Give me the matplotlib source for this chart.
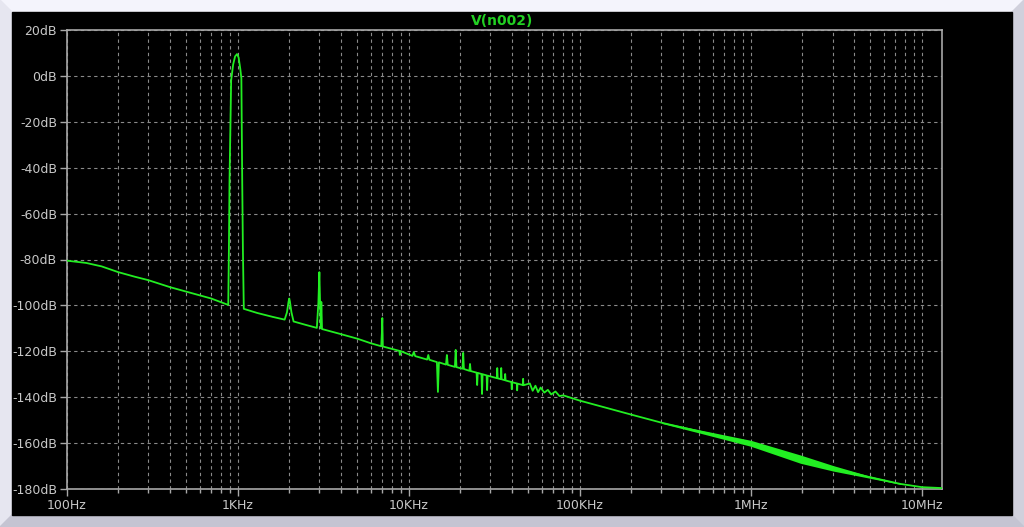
import numpy as np
import matplotlib
matplotlib.use("Agg")
import matplotlib.pyplot as plt
from matplotlib.patches import Rectangle, Polygon

# spectrum trace V(n002), frequency in Hz and magnitude in dB
freq = [100, 130, 160, 200, 250, 300, 400, 500, 700, 880,
        888, 895, 915, 940, 965, 990, 1012, 1035, 1050, 1062, 1072, 1085,
        1300, 1600, 1880, 1940, 1980, 2000, 2020, 2060, 2120, 2500, 2900,
        2960, 3000, 3030, 3060, 3080, 3110, 4000, 5000, 6000,
        6900, 6960, 7000, 7050, 8800, 8870, 8950,
        10500, 10700, 10900, 12800, 13000, 13200,
        14600, 14800, 15000, 16500, 16700, 16900, 18600, 18800, 19000,
        20600, 20800, 21000, 22600, 22800, 23000, 24900, 25100, 25300,
        26600, 26800, 27000, 28500, 28700, 28900, 32700, 32900, 33100,
        34500, 34700, 34900, 36400, 36600, 36800, 39800, 40000, 40200,
        42800, 43000, 43200, 46400, 46600, 46800,
        51000, 53000, 55000, 57000, 59000, 62000, 65000, 68000, 72000, 76000, 80000,
        100e3, 200e3, 300e3, 506e3, 1.0e6, 1.95e6, 3.03e6, 4.8e6, 7.5e6, 10e6, 13.1e6]
mag = [-80.5, -81.5, -83.0, -85.5, -87.5, -89.0, -92.0, -94.0, -97.0, -99.8,
       -75.0, -46.0, -2.0, 5.0, 8.5, 9.5, 8.0, 3.0, -1.0, -46.0, -76.0, -101.5,
       -103.3, -105.0, -106.2, -103.0, -98.5, -97.0, -98.5, -103.0, -107.0, -108.5, -109.8,
       -99.0, -85.5, -99.0, -110.0, -98.5, -110.3, -112.5, -114.5, -116.5,
       -117.8, -112.0, -105.5, -117.9, -119.8, -121.6, -119.9,
       -122.0, -120.3, -122.1, -123.6, -121.6, -123.7,
       -124.7, -137.7, -124.8, -125.8, -121.6, -125.9, -126.8, -119.4, -126.9,
       -127.6, -120.7, -127.7, -128.5, -125.5, -128.6, -129.3, -134.7, -129.4,
       -129.9, -138.6, -130.0, -130.5, -136.9, -130.6, -131.7, -127.3, -131.8,
       -132.1, -127.3, -132.2, -132.6, -129.9, -132.7, -133.4, -136.5, -133.5,
       -134.0, -137.0, -134.1, -134.7, -132.0, -134.8,
       -134.0, -137.2, -135.0, -137.8, -135.8, -138.0, -136.8, -138.8, -137.5, -139.5, -139.2,
       -141.5, -147.6, -151.1, -155.0, -160.1, -167.0, -171.0, -174.6, -177.8, -179.2, -179.6]

# half-width of the noisy band around the trace (dB), at trace frequencies
band_freq = [300e3, 506e3, 1.0e6, 1.95e6, 3.03e6, 4.8e6, 7.5e6]
band_mag = [-151.1, -155.0, -160.1, -167.0, -171.0, -174.6, -177.8]
band_half = [0.3, 0.7, 1.3, 1.8, 1.2, 0.5, 0.2]

xticks = [100, 1e3, 1e4, 1e5, 1e6, 1e7]
xlabels = ["100Hz", "1KHz", "10KHz", "100KHz", "1MHz", "10MHz"]
yticks = list(range(20, -181, -20))
ylabels = [f"{v}dB" for v in yticks]

green = "#22ee22"
grey = "#c8c8c8"

fig = plt.figure(figsize=(10.24, 5.27), dpi=100)
fig.patch.set_facecolor("#f4f4fc")
W, H = 1024, 527


def px_rect(x0, y0, x1, y1, color):
    fig.add_artist(Rectangle((x0 / W, 1 - y1 / H), (x1 - x0) / W, (y1 - y0) / H,
                             transform=fig.transFigure, color=color, zorder=-10))


def px_poly(pts, color):
    fig.add_artist(Polygon([(x / W, 1 - y / H) for x, y in pts], closed=True,
                           transform=fig.transFigure, color=color, zorder=-10))


# window bevel
px_poly([(0, 0), (12, 12), (12, 515), (0, 527)], "#e6e6f0")
px_poly([(1012, 12), (1024, 0), (1024, 527), (1012, 515)], "#d0d0dc")
px_poly([(0, 527), (12, 515), (1012, 515), (1024, 527)], "#c4c4d2")
px_rect(12, 12, 1012, 515, "black")

ax = fig.add_axes([66.7 / W, 1 - 489 / H, (942 - 66.7) / W, (489 - 30) / H])
ax.set_facecolor("black")
ax.set_xscale("log")
ax.set_xlim(100, 13.1e6)
ax.set_ylim(-180, 20)

ax.fill_between(band_freq, np.array(band_mag) - np.array(band_half),
                np.array(band_mag) + np.array(band_half), color=green, lw=0, zorder=3)
ax.plot(freq, mag, color=green, lw=1.3, zorder=4)

ax.set_xticks(xticks)
ax.set_xticklabels(xlabels)
ax.xaxis.set_minor_locator(matplotlib.ticker.LogLocator(base=10, subs=np.arange(2, 10)))
ax.xaxis.set_minor_formatter(matplotlib.ticker.NullFormatter())
ax.set_yticks(yticks)
ax.set_yticklabels(ylabels)

ax.grid(True, which="both", axis="x", color="#8a8a8a", lw=0.8, ls=(0, (3, 3)))
ax.grid(True, which="major", axis="y", color="#8a8a8a", lw=0.8, ls=(0, (3, 3)))

ax.tick_params(which="major", length=5, width=1, color="#a8a8a8", labelcolor=grey,
               labelsize=9, pad=2)
ax.tick_params(which="minor", length=3, width=1, color="#a8a8a8")
for s in ax.spines.values():
    s.set_color("#a8a8a8")
    s.set_linewidth(1.2)

fig.text(502 / W, 1 - 21 / H, "V(n002)", color="#22d022", fontsize=10, fontweight="bold",
         ha="center", va="center")

fig.savefig("out.png", dpi=100, facecolor=fig.get_facecolor())
